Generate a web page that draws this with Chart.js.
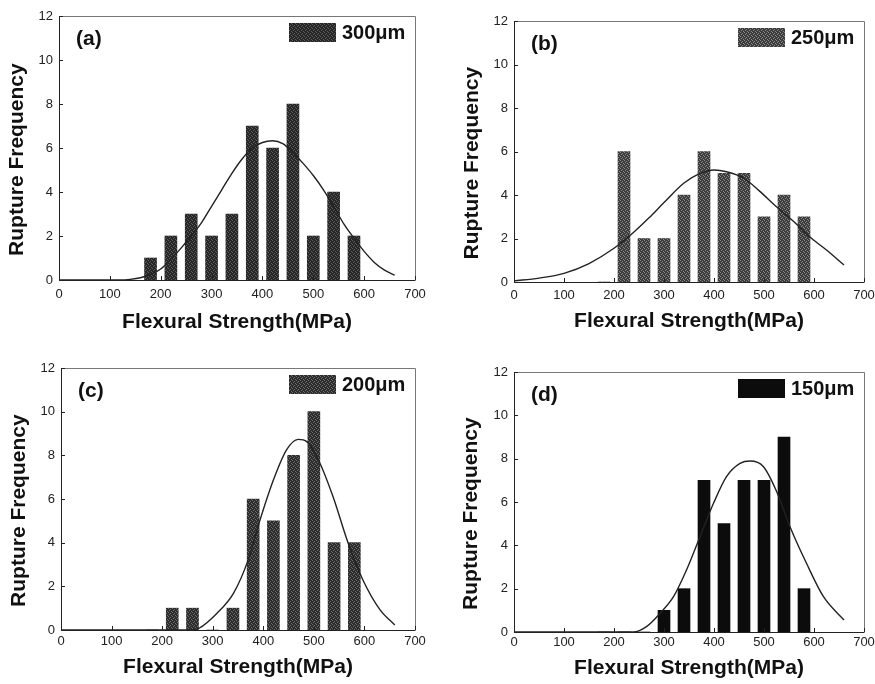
<!DOCTYPE html>
<html>
<head>
<meta charset="utf-8">
<script src="https://cdn.jsdelivr.net/npm/chart.js@4.4.0/dist/chart.umd.min.js"></script>
<style>
  html, body { margin: 0; padding: 0; background: #fff; }
  #wrap { position: relative; width: 875px; height: 684px; overflow: hidden; background: #fff; }
  canvas { position: absolute; }
</style>
</head>
<body>
<div id="wrap">
  <canvas id="chartA" width="440" height="340" style="left:0;top:0"></canvas>
  <canvas id="chartB" width="435" height="340" style="left:440px;top:0"></canvas>
  <canvas id="chartC" width="440" height="344" style="left:0;top:340px"></canvas>
  <canvas id="chartD" width="435" height="344" style="left:440px;top:340px"></canvas>
</div>
<script>
// --- Data ---
const binCenters = [180, 220, 260, 300, 340, 380, 420, 460, 500, 540, 580];

const freq300 = [1, 2, 3, 2, 3, 7, 6, 8, 2, 4, 2];
const freq250 = [0, 6, 2, 2, 4, 6, 5, 5, 3, 4, 3];
const freq200 = [0, 1, 1, 0, 1, 6, 5, 8, 10, 4, 4];
const freq150 = [0, 0, 0, 1, 2, 7, 5, 7, 7, 9, 2];

// fitted curves, sampled by eye from the plot
const fit300X = [0, 120, 140, 160, 180, 200, 220, 240, 260, 280, 300, 320, 340, 360, 380, 400, 420, 440, 460, 480, 500, 520, 540, 560, 580, 600, 620, 640, 660];
const fit300Y = [0, 0, 0.03, 0.1, 0.25, 0.5, 0.95, 1.45, 2.0, 2.6, 3.35, 4.1, 4.85, 5.5, 6.0, 6.25, 6.33, 6.2, 5.8, 5.3, 4.75, 4.1, 3.35, 2.55, 1.9, 1.3, 0.8, 0.45, 0.22];

const fit250X = [0, 50, 100, 150, 200, 240, 270, 300, 340, 370, 400, 425, 460, 490, 525, 560, 590, 625, 660];
const fit250Y = [0.05, 0.18, 0.4, 0.85, 1.55, 2.3, 2.95, 3.65, 4.55, 4.97, 5.15, 5.07, 4.77, 4.2, 3.46, 2.77, 2.1, 1.47, 0.78];

const fit200X = [0, 260, 273, 308, 341, 370, 393, 420, 446, 469, 486, 512, 538, 568, 597, 631, 660];
const fit200Y = [0, 0, 0.08, 0.76, 1.68, 3.2, 5.0, 6.87, 8.25, 8.73, 8.63, 7.64, 6.1, 3.97, 2.29, 0.92, 0.23];

const fit150X = [0, 239, 265, 292, 319, 345, 372, 399, 425, 452, 472, 499, 525, 552, 585, 619, 660];
const fit150Y = [0, 0, 0.25, 0.86, 1.63, 2.86, 4.4, 5.94, 7.17, 7.78, 7.89, 7.63, 6.5, 4.86, 3.17, 1.63, 0.55];

const xTicks = [0, 100, 200, 300, 400, 500, 600, 700];
const yTicks = [0, 2, 4, 6, 8, 10, 12];

const FONT = "Arial, 'Liberation Sans', Helvetica, sans-serif";
Chart.defaults.font.family = FONT;
Chart.defaults.color = "#222";

// halftone-ish fill like the scanned bars
function makePattern(base, dot) {
    const c = document.createElement("canvas");
    c.width = 4;
    c.height = 4;
    const g = c.getContext("2d");
    g.fillStyle = base;
    g.fillRect(0, 0, 4, 4);
    g.fillStyle = dot;
    [[0, 0], [2, 1], [1, 2], [3, 3]].forEach(([x, y]) => g.fillRect(x, y, 1, 1));
    return g.createPattern(c, "repeat");
}

function toPoints(xs, ys) {
    return xs.map((x, i) => ({ x: x, y: ys[i] }));
}

// frame, inward ticks, panel letter and the legend box
const panelDecor = {
    id: "panelDecor",
    afterDatasetsDraw(chart, args, opts) {
        const { ctx, chartArea: a, scales } = chart;
        ctx.save();
        ctx.lineWidth = 1;
        ctx.strokeStyle = "#777";
        ctx.beginPath();
        ctx.moveTo(a.left, a.top + 0.5);
        ctx.lineTo(a.right + 0.5, a.top + 0.5);
        ctx.lineTo(a.right + 0.5, a.bottom);
        ctx.stroke();

        ctx.strokeStyle = "#222";
        ctx.beginPath();
        ctx.moveTo(a.left + 0.5, a.top);
        ctx.lineTo(a.left + 0.5, a.bottom + 0.5);
        ctx.lineTo(a.right + 0.5, a.bottom + 0.5);
        // inward ticks
        yTicks.forEach((v) => {
            const py = Math.round(scales.y.getPixelForValue(v)) + 0.5;
            ctx.moveTo(a.left, py);
            ctx.lineTo(a.left + 4, py);
        });
        xTicks.forEach((v) => {
            const px = Math.round(scales.x.getPixelForValue(v)) + 0.5;
            ctx.moveTo(px, a.bottom);
            ctx.lineTo(px, a.bottom - 4);
        });
        ctx.stroke();

        ctx.fillStyle = "#111";
        ctx.textBaseline = "middle";
        ctx.font = "bold 21px " + FONT;
        ctx.fillText(opts.label, a.left + 17, a.top + 23);

        const ds = chart.data.datasets[0];
        const bx = a.right - 126;
        const by = a.top + 7;
        ctx.fillStyle = ds.backgroundColor;
        ctx.fillRect(bx, by, 47, 19);
        ctx.fillStyle = "#111";
        ctx.font = "bold 20px " + FONT;
        ctx.fillText(ds.label, bx + 53, by + 10);
        ctx.restore();
    },
};

function makePanel(cfg) {
    const ctx = document.getElementById(cfg.id).getContext("2d");
    return new Chart(ctx, {
        type: "bar",
        data: {
            datasets: [
                {
                    label: cfg.name,
                    data: toPoints(binCenters, cfg.freq),
                    backgroundColor: cfg.fill,
                    borderWidth: 0,
                    barThickness: 12,
                    order: 2,
                },
                {
                    type: "line",
                    label: "fit",
                    data: toPoints(cfg.fitX, cfg.fitY),
                    borderColor: "#222",
                    borderWidth: 1.4,
                    pointRadius: 0,
                    cubicInterpolationMode: "monotone",
                    fill: false,
                    order: 1,
                },
            ],
        },
        options: {
            responsive: false,
            animation: false,
            layout: {
                padding: { top: cfg.top, right: cfg.right, left: 0, bottom: 0 },
            },
            plugins: {
                legend: { display: false },
                tooltip: { enabled: false },
                panelDecor: { label: cfg.label },
            },
            scales: {
                x: {
                    type: "linear",
                    min: 0,
                    max: 700,
                    offset: false,
                    grid: { display: false, drawTicks: false },
                    border: { display: false },
                    ticks: {
                        stepSize: 100,
                        padding: cfg.tickPad,
                        font: { size: 13 },
                        maxRotation: 0,
                    },
                    title: {
                        display: true,
                        text: "Flexural Strength(MPa)",
                        color: "#111",
                        font: { size: 21, weight: "bold" },
                        padding: { top: 0, bottom: cfg.xTitlePad },
                    },
                    afterFit: (scale) => {
                        scale.height = cfg.xH;
                        scale.paddingLeft = 0;
                        scale.paddingRight = 0;
                    },
                },
                y: {
                    min: 0,
                    max: 12,
                    grid: { display: false, drawTicks: false },
                    border: { display: false },
                    ticks: {
                        stepSize: 2,
                        padding: 6,
                        font: { size: 13 },
                    },
                    title: {
                        display: true,
                        text: "Rupture Frequency    ",
                        color: "#111",
                        font: { size: 21, weight: "bold" },
                        padding: { top: cfg.yTitlePad, bottom: 0 },
                    },
                    afterFit: (scale) => {
                        scale.width = cfg.left;
                        scale.paddingTop = 0;
                        scale.paddingBottom = 0;
                    },
                },
            },
        },
        plugins: [panelDecor],
    });
}

const panels = [
    { id: "chartA", label: "(a)", name: "300\u03bcm", freq: freq300, fitX: fit300X, fitY: fit300Y,
      fill: makePattern("#262626", "#5e5e5e"), top: 16, right: 25, left: 59, xH: 60, tickPad: 7, xTitlePad: 5, yTitlePad: 5 },
    { id: "chartB", label: "(b)", name: "250\u03bcm", freq: freq250, fitX: fit250X, fitY: fit250Y,
      fill: makePattern("#3c3c3c", "#8a8a8a"), top: 21, right: 11, left: 74, xH: 58, tickPad: 6, xTitlePad: 6, yTitlePad: 20 },
    { id: "chartC", label: "(c)", name: "200\u03bcm", freq: freq200, fitX: fit200X, fitY: fit200Y,
      fill: makePattern("#2c2c2c", "#6e6e6e"), top: 28, right: 25, left: 61, xH: 54, tickPad: 4, xTitlePad: 4, yTitlePad: 7 },
    { id: "chartD", label: "(d)", name: "150\u03bcm", freq: freq150, fitX: fit150X, fitY: fit150Y,
      fill: "#0c0c0c", top: 32, right: 11, left: 74, xH: 52, tickPad: 3, xTitlePad: 3, yTitlePad: 19 },
];

panels.forEach(makePanel);
</script>
</body>
</html>
